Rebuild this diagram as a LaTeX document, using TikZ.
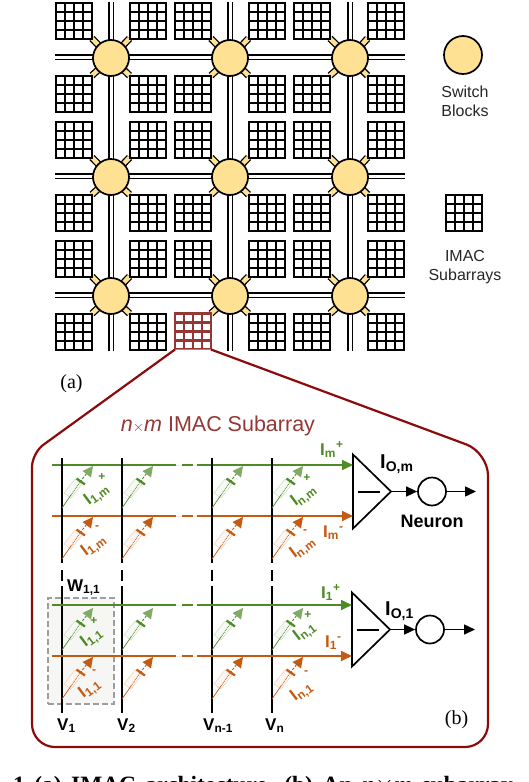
\documentclass[tikz,border=0pt]{standalone}
\usepackage{xcolor}
\usepackage{fontspec}
\setmainfont{Liberation Sans}
\newfontfamily\capserif{Liberation Serif}
\usepackage{tikz}
\usetikzlibrary{positioning,calc,arrows.meta,backgrounds,shapes.geometric}
\definecolor{IYellow}{HTML}{FFE194}
\definecolor{IDark}{HTML}{8C0A0A}
\definecolor{IRust}{HTML}{953735}
\definecolor{IGreen}{HTML}{4F8B25}
\definecolor{ITipG}{HTML}{7FAB62}
\definecolor{IOrange}{HTML}{C55A11}
\definecolor{IBox}{HTML}{F6F6F4}
\definecolor{IInk}{HTML}{262626}
\newcommand{\sawd}{2pt}
\tikzset{
  pics/cell/.style 2 args={code={
    \draw[draw=#1!28, fill=#1!5, line width=0.5pt] (2,-15) -- (9,-10) -- (20,-24) -- (13,-29) -- cycle;
    \draw[draw=#1, line width=0.7pt] (0,0) -- (9,-13);
    \draw[draw=#1, line width=0.8pt, densely dotted] (9,-13) -- (18,-26);
    \draw[draw=#1, line width=2.2pt] (14.5,-29.5) -- (23,-23.5);
    \draw[draw=#1, line width=0.9pt, dash pattern=on 2.5pt off 1.5pt] (18,-26) -- (25,-35);
    \fill[#2] (31,-42) -- (20.5,-37) -- (29,-30.5) -- cycle;
  }}
}
\begin{document}
\begin{tikzpicture}[x=1pt, y=-1pt, every node/.style={text=black},
  subarray/.style={draw=#1, fill=white, line width=\sawd, minimum size=36pt, inner sep=0pt, outer sep=0pt,
    path picture={\foreach \k in {1,2,3} {
      \draw[#1, line width=\sawd] ($(path picture bounding box.north west)!\k/4!(path picture bounding box.north east)$)
        -- ($(path picture bounding box.south west)!\k/4!(path picture bounding box.south east)$);
      \draw[#1, line width=\sawd] ($(path picture bounding box.north west)!\k/4!(path picture bounding box.south west)$)
        -- ($(path picture bounding box.north east)!\k/4!(path picture bounding box.south east)$);}}},
  subarray/.default=black,
  switchblock/.style={circle, draw=black, fill=IYellow, line width=1.7pt, minimum size=36pt, inner sep=0pt},
  bus/.style={draw=black, double=white, double distance=3pt, line width=1.5pt},
  stub/.style={draw=black, double=IYellow, double distance=4.5pt, line width=1.3pt},
  legend/.style={align=center, text=IInk, font=\fontsize{16}{19}\selectfont},
  panel/.style={draw=IDark, fill=white, line width=2.2pt},
  bitline/.style={draw=black, line width=1.7pt, dash pattern=on 105pt off 7pt on 11pt off 5pt on 140pt},
  wire/.style={-{Triangle[length=11pt,width=10pt]}, line width=1.7pt, dash pattern=on 124pt off 6pt on 11pt off 4pt on 200pt},
  amp/.style={isosceles triangle, isosceles triangle apex angle=88, isosceles triangle stretches, draw=black, fill=white,
              line width=1.7pt, minimum width=74pt, minimum height=38pt, inner sep=0pt, outer sep=0pt, anchor=lower side},
  neuron/.style={circle, draw=black, fill=white, line width=1.7pt, minimum size=28pt, inner sep=0pt},
  outarrow/.style={-{Triangle[length=11pt,width=10pt]}, draw=black, line width=1.5pt},
  vlabel/.style={font=\fontsize{17}{19}\bfseries\selectfont, inner sep=0pt},
  ilabel/.style={font=\fontsize{17}{19}\bfseries\selectfont, inner sep=0pt, text=#1},
  rotlabel/.style={font=\fontsize{17}{19}\bfseries\selectfont, inner sep=0pt, rotate=37, text=#1}]
\useasboundingbox (0,0) rectangle (528,782);
% subarrays and switch blocks
\foreach \r/\y in {1/20.5,2/93.5,3/139.5,4/212.5,5/258.5,6/331.5} {
  \foreach \c/\x in {1/74,2/147.5,3/193,4/266.5,5/312,6/385.5} {
    \ifnum\r\c=63 \def\sacol{IRust}\def\sawd{2.5pt}\else\def\sacol{black}\fi
    \node[subarray=\sacol] (sa\r\c) at (\x,\y) {};
  }
}
\foreach \i/\y in {1/58,2/177,3/296} {
  \foreach \j/\x in {1/111,2/230,3/350} {\node[switchblock] (sw\i\j) at (\x,\y) {};}
  \coordinate (hl\i) at (55,\y-1);
  \coordinate (hr\i) at (405,\y-1);
}
\foreach \j/\x in {1/111,2/230,3/350} {
  \coordinate (vt\j) at (\x,2);
  \coordinate (vb\j) at (\x,351);
}
\begin{scope}[on background layer]
\foreach \i in {1,2,3} {
  \draw[bus] (hl\i) -- (hr\i);
  \draw[bus] (vt\i) -- (vb\i);
}
\foreach \i in {1,2,3} {\foreach \j in {1,2,3} {
  \pgfmathtruncatemacro\rt{2*\i-1} \pgfmathtruncatemacro\rb{2*\i}
  \pgfmathtruncatemacro\cl{2*\j-1} \pgfmathtruncatemacro\cr{2*\j}
  \draw[stub] (sw\i\j.center) -- (sa\rt\cl.south east);
  \draw[stub] (sw\i\j.center) -- (sa\rt\cr.south west);
  \draw[stub] (sw\i\j.center) -- (sa\rb\cl.north east);
  \draw[stub] (sw\i\j.center) -- (sa\rb\cr.north west);
}}
\end{scope}
% legend
\node[switchblock, minimum size=38pt] (legsw) at (463,55) {};
\node[legend] (legswt) at (465,101.5) {Switch\\Blocks};
\node[subarray] (legsa) at (463.5,212.5) {};
\node[legend] (legsat) at (465,267.5) {IMAC\\Subarrays};
\node[font=\capserif\fontsize{20}{22}\selectfont, inner sep=0pt] (laba) at (71.5,384) {(a)};
% zoomed panel
\coordinate (pnw) at (32,453);
\coordinate (psw) at (32,747);
\coordinate (pse) at (488,747);
\coordinate (pne) at (488,452.5);
\draw[panel, rounded corners=14pt] (sa63.south west) -- (pnw) [rounded corners=23pt] -- (psw) -- (pse) -- (pne) [rounded corners=17pt] -- (sa63.south east);
\node[font=\fontsize{21.5}{24}\selectfont, text=IRust, inner sep=0pt] (title) at (218,426) {\textit{n}{\fontsize{15}{15}\selectfont$\times$}\textit{m} IMAC Subarray};
\node[font=\capserif\fontsize{20}{22}\selectfont, inner sep=0pt] (labb) at (456.5,720) {(b)};
\node[draw=black!38, fill=IBox, dash pattern=on 6pt off 3pt, line width=1.2pt, minimum width=66pt, minimum height=106pt, inner sep=0pt] (w11box) at (81,651) {};
% amplifiers and neurons
\node[amp] (ampm) at (353,491.5) {};
\node[amp] (ampo) at (352,629.5) {};
\node[neuron] (neum) at (432,491.5) {};
\node[neuron] (neuo) at (430,629.5) {};
\coordinate (endm) at (476,491.5);
\coordinate (endo) at (475,629.5);
\foreach \a/\n/\e in {ampm/neum/endm,ampo/neuo/endo} {
  \draw[outarrow] (\a.apex) -- (\n.west);
  \draw[outarrow] (\n.east) -- (\e);
  \draw[draw=black, line width=2pt] ($(\a.lower side)+(5,0)$) -- ($(\a.lower side)+(27,0)$);
}
% word lines and bit lines
\coordinate (gm) at (52,465);
\coordinate (om) at (52,516);
\coordinate (go) at (52,605);
\coordinate (oo) at (52,656);
\draw[wire, draw=IGreen, fill=IGreen] (gm) -- (gm -| ampm.lower side);
\draw[wire, draw=IOrange, fill=IOrange] (om) -- (om -| ampm.lower side);
\foreach \i/\x in {1/62,2/122,n1/212,n/272} {
  \coordinate (bt\i) at (\x,458);
  \coordinate (bb\i) at (\x,713);
  \draw[bitline] (bt\i) -- (bb\i);
  \pic at (\x,508) {cell={IGreen}{ITipG}};
  \pic at (\x,559) {cell={IOrange}{IOrange}};
  \pic at (\x,650) {cell={IGreen}{ITipG}};
  \pic at (\x,699) {cell={IOrange}{IOrange}};
}
\draw[wire, draw=IGreen, fill=IGreen] (go) -- (go -| ampo.lower side);
\draw[wire, draw=IOrange, fill=IOrange] (oo) -- (oo -| ampo.lower side);
% labels
\node[vlabel, anchor=base west] (lv1) at (57,730) {V\textsubscript{1}};
\node[vlabel, anchor=base west] (lv2) at (117,730) {V\textsubscript{2}};
\node[vlabel, anchor=base west] (lvn1) at (203,730) {V\textsubscript{n-1}};
\node[vlabel, anchor=base west] (lvn) at (265,730) {V\textsubscript{n}};
\node[vlabel, anchor=base west] (lw) at (67,591) {W\textsubscript{1,1}};
\node[ilabel=IGreen, anchor=base west] (lgm) at (320,455) {I\textsubscript{m}\textsuperscript{+}};
\node[ilabel=IOrange, anchor=base west] (lom) at (323,537) {I\textsubscript{m}\textsuperscript{-}};
\node[ilabel=IGreen, anchor=base west] (lgo) at (321,598) {I\textsubscript{1}\textsuperscript{+}};
\node[ilabel=IOrange, anchor=base west] (loo) at (325,647) {I\textsubscript{1}\textsuperscript{-}};
\node[vlabel, font=\fontsize{20}{22}\bfseries\selectfont, anchor=base west] (liom) at (380,468) {I\textsubscript{O,m}};
\node[vlabel, font=\fontsize{20}{22}\bfseries\selectfont, anchor=base west] (lioo) at (385,615) {I\textsubscript{O,1}};
\node[vlabel, font=\fontsize{18}{20}\bfseries\selectfont] (lneu) at (432,521) {Neuron};
\foreach \t/\s/\c/\x/\y in {a/{1,m}/IGreen/97/495, b/{1,m}/IOrange/94/546, c/{n,m}/IGreen/304/496, d/{n,m}/IOrange/303/548,
                            e/{1,1}/IGreen/92/638, f/{1,1}/IOrange/90/689, g/{n,1}/IGreen/305/632, h/{n,1}/IOrange/302/692} {
  \node[rotlabel=\c] (lab\t) at (\x,\y) {I\textsubscript{\s}};
}
\foreach \t/\g/\c/\x/\y in {a/+/IGreen/102/477, b/-/IOrange/97/528, c/+/IGreen/307/478, d/-/IOrange/305/532,
                            e/+/IGreen/94/621, f/-/IOrange/94/672, g/+/IGreen/308/615, h/-/IOrange/306/673} {
  \node[rotlabel=\c, font=\fontsize{12}{12}\bfseries\selectfont, rotate=-37] (sg\t) at (\x,\y) {\g};
}
\node[font=\capserif\fontsize{23.4}{26}\bfseries\selectfont, inner sep=0pt, anchor=base west] (capt) at (13,792) {\spaceskip=9.5pt 1 (a) IMAC architecture. (b) An \textit{n}$\times$\textit{m} subarray};
\end{tikzpicture}
\end{document}
